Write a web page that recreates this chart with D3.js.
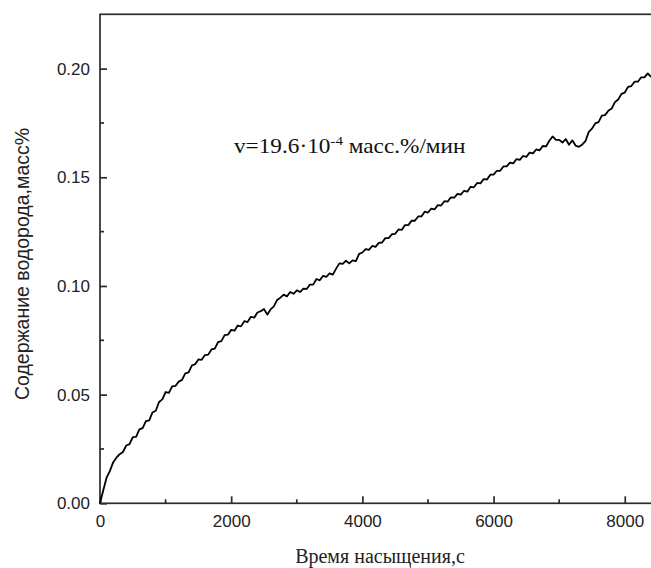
<!DOCTYPE html>
<html>
<head>
<meta charset="utf-8">
<script src="https://cdn.jsdelivr.net/npm/d3@7"></script>
<style>
  body { margin: 0; background: #fff; }
  svg { display: block; }
</style>
</head>
<body>
<div id="chart"></div>
<script>
// sampling times, s
const timeSec = [
  0, 50, 100, 150, 200, 250, 300, 350, 400, 450, 500, 550, 600, 650, 700, 750,
  800, 850, 900, 950, 1000, 1050, 1100, 1150, 1200, 1250, 1300, 1350, 1400, 1450, 1500, 1550,
  1600, 1650, 1700, 1750, 1800, 1850, 1900, 1950, 2000, 2050, 2100, 2150, 2200, 2250, 2300, 2350,
  2400, 2450, 2500, 2550, 2600, 2650, 2700, 2750, 2800, 2850, 2900, 2950, 3000, 3050, 3100, 3150,
  3200, 3250, 3300, 3350, 3400, 3450, 3500, 3550, 3600, 3650, 3700, 3750, 3800, 3850, 3900, 3950,
  4000, 4050, 4100, 4150, 4200, 4250, 4300, 4350, 4400, 4450, 4500, 4550, 4600, 4650, 4700, 4750,
  4800, 4850, 4900, 4950, 5000, 5050, 5100, 5150, 5200, 5250, 5300, 5350, 5400, 5450, 5500, 5550,
  5600, 5650, 5700, 5750, 5800, 5850, 5900, 5950, 6000, 6050, 6100, 6150, 6200, 6250, 6300, 6350,
  6400, 6450, 6500, 6550, 6600, 6650, 6700, 6750, 6800, 6850, 6900, 6950, 7000, 7050, 7100, 7150,
  7200, 7250, 7300, 7350, 7400, 7450, 7500, 7550, 7600, 7650, 7700, 7750, 7800, 7850, 7900, 7950,
  8000, 8050, 8100, 8150, 8200, 8250, 8300, 8350, 8400
];
// hydrogen content, mass %
const hydrogen = [
  0.0000, 0.0060, 0.0118, 0.0148, 0.0188, 0.0210, 0.0226, 0.0236, 0.0266, 0.0272, 0.0304, 0.0306, 0.0340, 0.0346, 0.0378, 0.0382,
  0.0418, 0.0426, 0.0466, 0.0478, 0.0512, 0.0508, 0.0538, 0.0540, 0.0560, 0.0568, 0.0598, 0.0602, 0.0634, 0.0640, 0.0662, 0.0660,
  0.0682, 0.0684, 0.0708, 0.0712, 0.0742, 0.0746, 0.0774, 0.0776, 0.0798, 0.0794, 0.0818, 0.0814, 0.0838, 0.0834, 0.0858, 0.0854,
  0.0878, 0.0884, 0.0894, 0.0868, 0.0892, 0.0906, 0.0936, 0.0946, 0.0960, 0.0952, 0.0972, 0.0964, 0.0980, 0.0972, 0.0988, 0.0986,
  0.1006, 0.1006, 0.1032, 0.1026, 0.1046, 0.1042, 0.1058, 0.1052, 0.1080, 0.1104, 0.1102, 0.1116, 0.1104, 0.1118, 0.1114, 0.1148,
  0.1154, 0.1170, 0.1166, 0.1184, 0.1180, 0.1198, 0.1200, 0.1220, 0.1220, 0.1238, 0.1240, 0.1260, 0.1258, 0.1280, 0.1280, 0.1300,
  0.1300, 0.1320, 0.1320, 0.1342, 0.1338, 0.1356, 0.1352, 0.1372, 0.1370, 0.1390, 0.1388, 0.1408, 0.1406, 0.1424, 0.1420, 0.1438,
  0.1434, 0.1456, 0.1454, 0.1474, 0.1472, 0.1492, 0.1490, 0.1512, 0.1512, 0.1530, 0.1530, 0.1550, 0.1550, 0.1568, 0.1564, 0.1584,
  0.1580, 0.1598, 0.1594, 0.1614, 0.1610, 0.1628, 0.1624, 0.1644, 0.1642, 0.1668, 0.1688, 0.1672, 0.1672, 0.1660, 0.1676, 0.1650,
  0.1670, 0.1646, 0.1640, 0.1650, 0.1666, 0.1708, 0.1724, 0.1748, 0.1754, 0.1784, 0.1786, 0.1806, 0.1816, 0.1846, 0.1858, 0.1884,
  0.1890, 0.1916, 0.1920, 0.1940, 0.1940, 0.1960, 0.1960, 0.1978, 0.1962
];

const xTicks = [0, 2000, 4000, 6000, 8000];
const xMinorTicks = [1000, 3000, 5000, 7000];
const yTicks = [0, 0.05, 0.10, 0.15, 0.20];
const yMinorTicks = [0.025, 0.075, 0.125, 0.175];

const xLabel = "Время насыщения,с";
const yLabel = "Содержание водорода,масс%";

const W = 651, H = 568;
const margin = {top: 14.3, right: 0, bottom: 64.7, left: 100};
const width = W - margin.left - margin.right,
      height = H - margin.top - margin.bottom;

const svg = d3.select("#chart")
  .append("svg")
  .attr("width", W)
  .attr("height", H);

const g = svg.append("g")
  .attr("transform", `translate(${margin.left}, ${margin.top})`);

const x = d3.scaleLinear().domain([0, 8400]).range([0, width]);
const y = d3.scaleLinear().domain([0, 0.225]).range([height, 0]);

const axisColor = "#2b2b2b";

// frame (right side falls outside the picture)
g.append("rect")
  .attr("x", 0).attr("y", 0)
  .attr("width", width + 3).attr("height", height)
  .attr("fill", "none")
  .attr("stroke", axisColor)
  .attr("stroke-width", 1.7);

// x axis, ticks pointing inward
const xAxis = g.append("g")
  .attr("transform", `translate(0, ${height})`)
  .call(d3.axisBottom(x).tickValues(xTicks).tickSize(-7).tickPadding(12).tickFormat(d3.format("d")));
xAxis.select(".domain").remove();
xAxis.selectAll("line").attr("stroke", axisColor).attr("stroke-width", 1.7);
xAxis.selectAll("text")
  .style("font-family", "Liberation Sans, Arial, sans-serif")
  .style("font-size", "17px")
  .attr("fill", "#222");

g.append("g")
  .attr("transform", `translate(0, ${height})`)
  .selectAll("line")
  .data(xMinorTicks)
  .join("line")
  .attr("x1", d => x(d)).attr("x2", d => x(d))
  .attr("y1", 0).attr("y2", -4)
  .attr("stroke", axisColor).attr("stroke-width", 1.7);

// y axis
const yAxis = g.append("g")
  .call(d3.axisLeft(y).tickValues(yTicks).tickSize(-7).tickPadding(10).tickFormat(d3.format(".2f")));
yAxis.select(".domain").remove();
yAxis.selectAll("line").attr("stroke", axisColor).attr("stroke-width", 1.7);
yAxis.selectAll("text")
  .style("font-family", "Liberation Sans, Arial, sans-serif")
  .style("font-size", "17px")
  .attr("fill", "#222");

g.append("g")
  .selectAll("line")
  .data(yMinorTicks)
  .join("line")
  .attr("x1", 0).attr("x2", 4)
  .attr("y1", d => y(d)).attr("y2", d => y(d))
  .attr("stroke", axisColor).attr("stroke-width", 1.7);

// curve
const line = d3.line()
  .x((d, i) => x(timeSec[i]))
  .y(d => y(d));

g.append("path")
  .datum(hydrogen)
  .attr("fill", "none")
  .attr("stroke", "#000")
  .attr("stroke-width", 1.8)
  .attr("stroke-linejoin", "round")
  .attr("d", line);

// annotation, stretched to the width it has in the figure
const note = svg.append("text")
  .attr("x", 0)
  .attr("y", 0)
  .style("font-family", "Liberation Serif, Times New Roman, serif")
  .style("font-size", "20px")
  .attr("fill", "#111");
note.append("tspan").text("v=19.6·10");
note.append("tspan").attr("dy", -8).style("font-size", "13px").text("-4");
note.append("tspan").attr("dy", 8).text(" масс.%/мин");
const noteW = note.node().getBBox().width;
note.attr("transform", `translate(234, 153) scale(${232 / noteW}, 1)`);

// axis titles
svg.append("text")
  .attr("x", 380)
  .attr("y", 563)
  .attr("text-anchor", "middle")
  .style("font-family", "Liberation Serif, Times New Roman, serif")
  .style("font-size", "20px")
  .attr("fill", "#222")
  .text(xLabel);

svg.append("text")
  .attr("transform", "translate(29, 264) rotate(-90)")
  .attr("text-anchor", "middle")
  .style("font-family", "Liberation Sans, Arial, sans-serif")
  .style("font-size", "19.5px")
  .attr("fill", "#222")
  .text(yLabel);
</script>
</body>
</html>
